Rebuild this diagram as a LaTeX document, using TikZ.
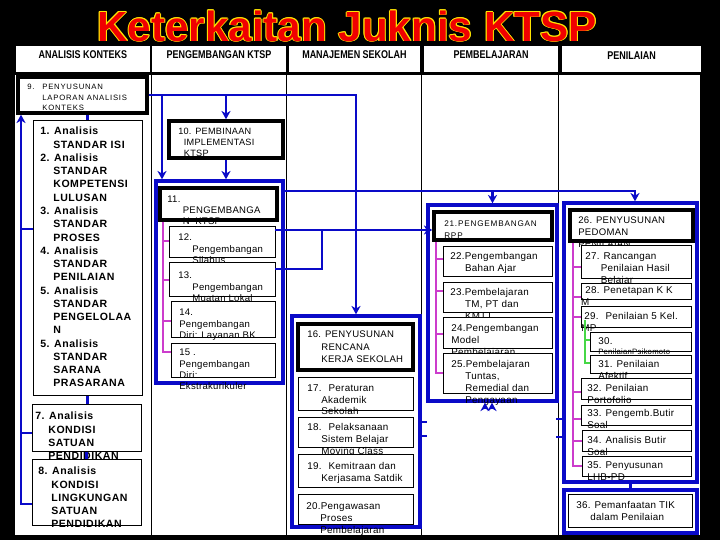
\documentclass[tikz,border=0pt]{standalone}
\usepackage{fontspec}
\usepackage{graphicx}
\setmainfont{Liberation Sans}
\newfontfamily\cellfont[LetterSpace=3]{Liberation Sans}
\newfontfamily\tagfont[LetterSpace=10]{Liberation Sans}
\newfontfamily\listfont[LetterSpace=5]{Liberation Sans}
\usetikzlibrary{fit,arrows.meta}

\definecolor{linkblue}{RGB}{10,10,200}
\definecolor{braceviolet}{RGB}{204,60,204}
\definecolor{bracegreen}{RGB}{70,215,70}
\definecolor{titlered}{RGB}{240,0,0}
\definecolor{titleyellow}{RGB}{255,230,0}

\newcommand{\narrow}[1]{\scalebox{0.8}[1]{#1}}
\newcommand{\subin}{\hspace*{9.3pt}}
\newcommand{\glowtitle}[1]{%
  \foreach \dx/\dy in {0.7/0,-0.7/0,0/0.7,0/-0.7,0.5/0.5,-0.5/0.5,0.5/-0.5,-0.5/-0.5}{%
    \rlap{\hspace*{\dx pt}\raisebox{\dy pt}{\textcolor{titleyellow}{#1}}}}%
  \textcolor{titlered}{#1}}

\tikzset{
  headbox/.style={fill=white,inner sep=0pt,font=\bfseries\fontsize{8}{9}\selectfont},
  thinbox/.style={draw=black,line width=0.7pt,fill=white,inner sep=0pt},
  thickbox/.style={draw=black,line width=2.4pt,fill=white,inner sep=0pt},
  groupbox/.style={draw=linkblue,line width=2.4pt,inner sep=0pt},
  colline/.style={draw=black,line width=0.6pt},
  link/.style={draw=linkblue,line width=1.9pt},
  linkarrow/.style={link,-{Stealth[length=6pt,width=6.5pt]}},
  bracket/.style={draw=braceviolet,line width=1.4pt},
  gbracket/.style={draw=bracegreen,line width=1.4pt},
  celltxt/.style={inner sep=0pt,anchor=north west,align=left,font=\cellfont\fontsize{7}{8.5}\selectfont},
  tagtxt/.style={celltxt,font=\tagfont\fontsize{5.5}{7.5}\selectfont},
  boldtxt/.style={celltxt,font=\listfont\bfseries\fontsize{7.5}{9.43}\selectfont},
}

\begin{document}
\begin{tikzpicture}[x=0.025cm,y=-0.025cm]
\useasboundingbox (0,0) rectangle (720,540);
\fill[black] (0,0) rectangle (720,540);
\node[font=\bfseries\fontsize{30}{31}\selectfont,anchor=base,inner sep=0pt] (title) at (347,41) {\glowtitle{Keterkaitan Juknis KTSP}};

\foreach \n/\xa/\xb/\t in {1/16/150/ANALISIS KONTEKS,2/152/286/PENGEMBANGAN KTSP,3/289/420/MANAJEMEN SEKOLAH,4/424/558/PEMBELAJARAN,5/562/701/PENILAIAN}
  \node[headbox,fit={(\xa,46) (\xb,72)}] (h\n) {\narrow{\t}};

\fill[white] (15,75) rectangle (700,535);
\foreach \x in {151,286,421,558}
  \draw[colline] (\x,75) -- (\x,535);

\foreach \n/\xa/\ya/\xb/\yb in {g11/156/181/283/383,g16/292/316/420/527,g21/428/205/557/401,g26/564/203/697/482,g36/564/490/697/533}
  \node[groupbox,fit={(\xa,\ya) (\xb,\yb)}] (\n) {};

\node[thickbox,fit={(18,77) (147,113)}] (b9) {};
\node[tagtxt] (b9-t) at (27,84) {\makebox[10.7pt][l]{9.}PENYUSUNAN\\\hspace*{10.7pt}LAPORAN ANALISIS\\\hspace*{10.7pt}KONTEKS};
\node[thickbox,fit={(169,121) (283,158)}] (b10) {};
\node[celltxt,font=\cellfont\fontsize{6.5}{7.8}\selectfont] (b10-t) at (178,128) {10. PEMBINAAN\\\hspace*{4pt}IMPLEMENTASI\\\hspace*{4pt}KTSP};
\node[thickbox,fit={(160,188) (277,220)}] (b11) {};
\node[celltxt,font=\cellfont\fontsize{6.8}{7.8}\selectfont] (b11-t) at (167,196) {11.\\\hspace*{11pt}PENGEMBANGA\\\hspace*{11pt}N\hspace{4pt}KTSP};
\node[thickbox,fit={(298,324) (413,370)}] (b16) {};
\node[celltxt,font=\cellfont\fontsize{6.8}{8.9}\selectfont] (b16-t) at (307,331) {16. PENYUSUNAN\\\hspace*{10pt}RENCANA\\\hspace*{10pt}KERJA SEKOLAH};
\node[thickbox,fit={(434,212) (552,240)}] (b21) {};
\node[tagtxt,font=\tagfont\fontsize{5.8}{8.5}\selectfont] (b21-t) at (444,221) {21.PENGEMBANGAN\\RPP};
\node[thickbox,fit={(570,210) (693,241)}] (b26) {};
\node[celltxt,font=\cellfont\fontsize{6.8}{8.5}\selectfont] (b26-t) at (578,217) {26. PENYUSUNAN\\PEDOMAN\\PENILAIAN};

\foreach \n/\xa/\ya/\xb/\yb/\tx/\ty/\t in {
  bA/33/120/142/395/40/127/{1. Analisis\\\subin STANDAR ISI\\2. Analisis\\\subin STANDAR\\\subin KOMPETENSI\\\subin LULUSAN\\3. Analisis\\\subin STANDAR\\\subin PROSES\\4. Analisis\\\subin STANDAR\\\subin PENILAIAN\\5. Analisis\\\subin STANDAR\\\subin PENGELOLAA\\\subin N\\5. Analisis\\\subin STANDAR\\\subin SARANA\\\subin PRASARANA},
  b7/32/404/141/451/35/412/{7. Analisis\\\subin KONDISI\\\subin SATUAN\\\subin PENDIDIKAN},
  b8/32/459/141/525/38/467/{8. Analisis\\\subin KONDISI\\\subin LINGKUNGAN\\\subin SATUAN\\\subin PENDIDIKAN}}{
  \node[thinbox,fit={(\xa,\ya) (\xb,\yb)}] (\n) {};
  \node[boldtxt] (\n-t) at (\tx,\ty) {\t};
}

\foreach \n/\xa/\ya/\xb/\yb/\tx/\ty/\t in {
  b12/169/226/275/257/178/234/{12.\\\hspace*{10pt}Pengembangan\\\hspace*{10pt}Silabus},
  b13/169/262/275/296/178/272/{13.\\\hspace*{10pt}Pengembangan\\\hspace*{10pt}Muatan Lokal},
  b14/171/301/275/337/179/309/{14.\\Pengembangan\\Diri: Layanan BK},
  b15/171/343/275/377/179/349/{15 .\\Pengembangan\\Diri:\\Ekstrakurikuler}}{
  \node[thinbox,fit={(\xa,\ya) (\xb,\yb)}] (\n) {};
  \node[celltxt,font=\cellfont\fontsize{6.8}{8}\selectfont] (\n-t) at (\tx,\ty) {\t};
}

\foreach \n/\xa/\ya/\xb/\yb/\tx/\ty/\t in {
  b17/298/377/413/410/307/384/{17.\hspace{5pt}Peraturan\\\hspace*{10pt}Akademik\\\hspace*{10pt}Sekolah},
  b18/298/417/413/447/307/423/{18.\hspace{5pt}Pelaksanaan\\\hspace*{10pt}Sistem Belajar\\\hspace*{10pt}Moving Class},
  b19/298/454/413/487/307/462/{19.\hspace{5pt}Kemitraan dan\\\hspace*{10pt}Kerjasama Satdik},
  b20/298/494/413/524/306/502/{20.Pengawasan\\\hspace*{10pt}Proses\\\hspace*{10pt}Pembelajaran},
  b22/443/246/552/276/450/252/{22.Pengembangan\\\hspace*{10.5pt}Bahan Ajar},
  b23/443/282/552/312/450/288/{23.Pembelajaran\\\hspace*{10.5pt}TM, PT dan\\\hspace*{10.5pt}KMTT},
  b24/443/317/552/348/451/324/{24.Pengembangan\\Model\\Pembelajaran},
  b25/443/353/552/393/451/360/{25.Pembelajaran\\\hspace*{10pt}Tuntas,\\\hspace*{10pt}Remedial dan\\\hspace*{10pt}Pengayaan},
  b27/581/245/691/278/585/252/{27. Rancangan\\\hspace*{11pt}Penilaian Hasil\\\hspace*{11pt}Belajar},
  b28/581/283/691/299/585/286/{28. Penetapan K K\\\hspace*{-3pt}M},
  b29/581/306/691/327/584/312/{29.\hspace{5pt}Penilaian 5 Kel.\\\hspace*{-2pt}MP},
  b30/590/332/691/351/598/337/{30.\\[-1.5pt]{\fontsize{5.5}{6}\selectfont PenilaianPsikomoto}},
  b31/590/355/691/373/598/360/{31. Penilaian\\Afektif},
  b32/581/378/691/399/587/384/{32. Penilaian\\Portofolio},
  b33/581/405/691/425/587/409/{33. Pengemb.Butir\\Soal},
  b34/582/430/691/451/587/436/{34. Analisis Butir\\Soal},
  b35/582/456/691/476/587/461/{35. Penyusunan\\LHB-PD},
  b36/568/494/692/527/576/501/{36. Pemanfaatan TIK\\\hspace*{10pt}dalam Penilaian}}{
  \node[thinbox,fit={(\xa,\ya) (\xb,\yb)}] (\n) {};
  \node[celltxt] (\n-t) at (\tx,\ty) {\t};
}

\draw[link] (bA.north) -- (bA.north |- b9.south);
\draw[link] (bA.south) -- (bA.south |- b7.north);
\draw[link] (b7.south) -- (b7.south |- b8.north);
\draw[linkarrow] (b8.west |- 0,504) -| (b9.south -| 21,0);
\draw[link] (bA.west |- 0,229) -- (21,229);
\draw[link] (b7.west |- 0,433) -- (21,433);

\draw[linkarrow] (b9.east) -| (g16.north);
\draw[linkarrow] (b9.east -| 162,0) -- (g11.north -| 162,0);
\draw[linkarrow] (b9.east -| b10.north) -- (b10.north);
\draw[linkarrow] (b10.south) -- (b10.south |- g11.north);
\draw[linkarrow] (g11.east |- 0,191) -| (g26.north -| 635,0);
\draw[linkarrow] (g21.north |- 0,191) -- (g21.north);
\draw[link] ([shift={(0,-10)}]b13.east) -| (322,230);
\draw[linkarrow] (b12.east |- 0,230) -- (b21.west |- 0,230);
\draw[link] ([shift={(0,0.5)}]g16.east) -- +(5,0);
\draw[link] ([shift={(0,14.5)}]g16.east) -- +(5,0);
\draw[link] ([shift={(0,76.5)}]g26.west) -- +(-6,0);
\draw[link] ([shift={(0,94.5)}]g26.west) -- +(-6,0);
\foreach \x in {485,492}
  \draw[linkarrow] (\x,409) -- (g21.south -| \x,0);
\draw[link] (g26.south) -- (g36.north);

\draw[bracket] (b11.south -| 163,0) |- (b15.west |- 0,352);
\foreach \b/\y in {b12/241,b13/280,b14/321}
  \draw[bracket] (163,\y) -- (\b.west |- 0,\y);
\draw[bracket] (b21.south -| 436,0) |- (b25.west |- 0,373);
\foreach \b/\y in {b22/259,b23/291,b24/334}
  \draw[bracket] (436,\y) -- (\b.west |- 0,\y);
\draw[bracket] (b26.south -| 573,0) |- (b35.west |- 0,466);
\foreach \b/\y in {b27/267,b28/297,b29/317,b32/392,b33/419,b34/441}
  \draw[bracket] (573,\y) -- (\b.west |- 0,\y);
\coordinate (g29) at (585,320);
\draw[gbracket] (g29) |- (b31.west |- 0,363);
\draw[gbracket] (585,340) -- (b30.west |- 0,340);
\end{tikzpicture}
\end{document}
